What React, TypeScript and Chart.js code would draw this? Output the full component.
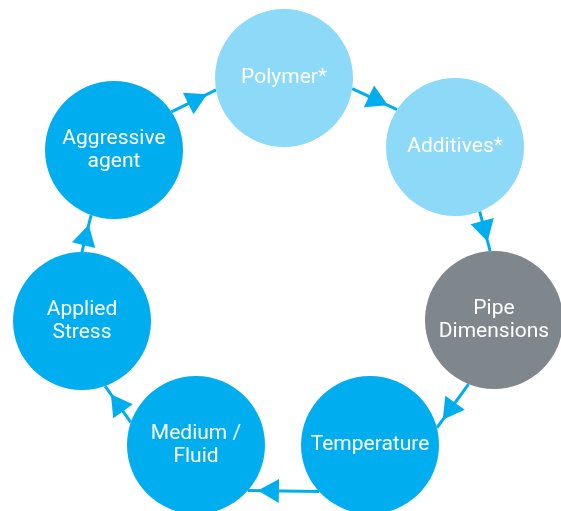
import React, { useEffect, useRef } from "react";
import { Chart, registerables } from "chart.js";

Chart.register(...registerables);

// ---- Data ----
const nodeLabels = [
  "Polymer*",
  "Additives*",
  "Pipe\nDimensions",
  "Temperature",
  "Medium /\nFluid",
  "Applied\nStress",
  "Aggressive\nagent",
];
const nodeX = [284, 455, 494, 370, 196, 82, 114];
const nodeY = [78, 147, 320, 445, 445, 321, 150];
const nodeColors = [
  "#8DD9F8",
  "#8DD9F8",
  "#7F868C",
  "#00AEEF",
  "#00AEEF",
  "#00AEEF",
  "#00AEEF",
];
const arrowColor = "#00AEEF";

// ---- Layout ----
const W = 561;
const H = 511;
const NODE_RADIUS = 69;
const RING_CENTER_X = 286;
const RING_CENTER_Y = 285;
const RING_RADIUS = 206;
const ARROW_LEN = 21;
const ARROW_HALF = 12;
const ARROW_GAP = 10;
const FONT = "400 21px Roboto";
const LINE_H = 23;

const arrowsPlugin = {
  id: "cycleArrows",
  beforeDatasetsDraw(chart: any) {
    const { ctx } = chart;
    const xs = chart.scales.x;
    const ys = chart.scales.y;
    const cx = xs.getPixelForValue(RING_CENTER_X);
    const cy = ys.getPixelForValue(RING_CENTER_Y);
    const R = Math.abs(xs.getPixelForValue(RING_CENTER_X + RING_RADIUS) - cx);
    const pts = nodeX.map((v, i) => ({
      x: xs.getPixelForValue(v),
      y: ys.getPixelForValue(nodeY[i]),
    }));
    const n = pts.length;
    const r = NODE_RADIUS;
    ctx.save();
    ctx.strokeStyle = arrowColor;
    ctx.fillStyle = arrowColor;
    ctx.lineWidth = 3;
    for (let i = 0; i < n; i++) {
      const a = pts[i];
      const b = pts[(i + 1) % n];
      const ta = Math.atan2(a.y - cy, a.x - cx);
      const tb = Math.atan2(b.y - cy, b.x - cx);
      let diff = tb - ta;
      while (diff < 0) diff += Math.PI * 2;
      while (diff >= Math.PI * 2) diff -= Math.PI * 2;
      const th = ta + diff / 2;
      const px = cx + R * Math.cos(th);
      const py = cy + R * Math.sin(th);
      const dx = -Math.sin(th);
      const dy = Math.cos(th);
      const hit = (c: { x: number; y: number }, exit: boolean) => {
        const ox = px - c.x;
        const oy = py - c.y;
        const bb = dx * ox + dy * oy;
        const cc = ox * ox + oy * oy - r * r;
        const disc = bb * bb - cc;
        if (disc < 0) return -bb;
        const s = Math.sqrt(disc);
        return exit ? -bb + s : -bb - s;
      };
      const t0 = hit(a, true);
      const t1 = hit(b, false);
      ctx.beginPath();
      ctx.moveTo(px + t0 * dx, py + t0 * dy);
      ctx.lineTo(px + t1 * dx, py + t1 * dy);
      ctx.stroke();
      const tipT = t1 - ARROW_GAP;
      const tx = px + tipT * dx;
      const ty = py + tipT * dy;
      const bx = tx - ARROW_LEN * dx;
      const by = ty - ARROW_LEN * dy;
      const nx = -dy;
      const ny = dx;
      ctx.beginPath();
      ctx.moveTo(tx, ty);
      ctx.lineTo(bx + nx * ARROW_HALF, by + ny * ARROW_HALF);
      ctx.lineTo(bx - nx * ARROW_HALF, by - ny * ARROW_HALF);
      ctx.closePath();
      ctx.fill();
    }
    ctx.restore();
  },
};

const labelsPlugin = {
  id: "nodeLabels",
  afterDatasetsDraw(chart: any) {
    const { ctx } = chart;
    const xs = chart.scales.x;
    const ys = chart.scales.y;
    ctx.save();
    ctx.font = FONT;
    ctx.fillStyle = "#FFFFFF";
    ctx.textAlign = "center";
    ctx.textBaseline = "middle";
    nodeLabels.forEach((label, i) => {
      const lines = label.split("\n");
      const x = xs.getPixelForValue(nodeX[i]);
      const y = ys.getPixelForValue(nodeY[i]);
      const y0 = y - ((lines.length - 1) * LINE_H) / 2;
      lines.forEach((ln, j) => ctx.fillText(ln, x, y0 + j * LINE_H));
    });
    ctx.restore();
  },
};

export default function App() {
  const ref = useRef<HTMLCanvasElement | null>(null);
  useEffect(() => {
    if (!ref.current) return;
    const chart = new Chart(ref.current, {
      type: "scatter",
      data: {
        datasets: [
          {
            data: nodeX.map((x, i) => ({ x, y: nodeY[i] })),
            pointRadius: NODE_RADIUS,
            pointHoverRadius: NODE_RADIUS,
            backgroundColor: nodeColors,
            borderColor: nodeColors,
            pointBorderWidth: 0,
            borderWidth: 0,
            clip: false,
          } as any,
        ],
      },
      options: {
        responsive: false,
        animation: false,
        events: [],
        layout: { padding: 0, autoPadding: false },
        scales: {
          x: { type: "linear", min: 0, max: W, display: false },
          y: { type: "linear", min: 0, max: H, reverse: true, display: false },
        },
        plugins: {
          legend: { display: false },
          tooltip: { enabled: false },
        },
      },
      plugins: [arrowsPlugin, labelsPlugin],
    });
    return () => chart.destroy();
  }, []);
  return (
    <div style={{ position: "absolute", left: 0, top: 0, width: W, height: H, background: "#FFFFFF" }}>
      <canvas ref={ref} width={W} height={H} style={{ display: "block" }} />
    </div>
  );
}
